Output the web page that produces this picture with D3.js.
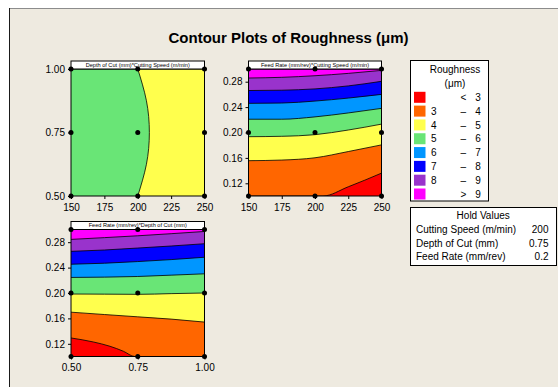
<!DOCTYPE html>
<html>
<head>
<meta charset="utf-8">
<script src="https://cdn.jsdelivr.net/npm/d3@7"></script>
<style>
  html, body { margin: 0; padding: 0; background: #ffffff; }
  svg { display: block; }
  text { font-family: "Liberation Sans", Arial, sans-serif; fill: #000; }
</style>
</head>
<body>
<script>
// ---- data ---------------------------------------------------------------
const speedTicks = [150, 175, 200, 225, 250];
const depthTicks = [0.50, 0.75, 1.00];
const feedTicks = [0.12, 0.16, 0.20, 0.24, 0.28];

const speedDomain = [150, 250];
const depthDomain = [0.50, 1.00];
const feedDomain = [0.10, 0.30];

// roughness bands, lowest first
const bandLow = [null, 3, 4, 5, 6, 7, 8, 9];
const bandHigh = [3, 4, 5, 6, 7, 8, 9, null];
const bandColors = ["#ff0000", "#ff6600", "#ffff4d", "#69e576", "#0096ff", "#0000ff", "#9933cc", "#ff00ff"];

// design points (three levels of each factor)
const speedLevels = [150, 200, 250];
const depthLevels = [0.50, 0.75, 1.00];
const feedLevels = [0.10, 0.20, 0.30];

// Depth of Cut vs Cutting Speed: boundary at roughness = 5, [speed, depth]
const depthSpeedLine5 = [[200, 0.50], [206.5, 0.625], [208.7, 0.75], [206.5, 0.875], [200, 1.00]];

// Feed Rate vs Cutting Speed: boundaries [speed, feed]
const feedSpeedLine3 = [[150, 0.10], [206, 0.10], [225, 0.1145], [250, 0.136]];
const feedSpeedLine4 = [[150, 0.1556], [175, 0.1566], [200, 0.1602], [225, 0.1700], [250, 0.1805]];
const feedSpeedLine5 = [[150, 0.1934], [175, 0.1940], [200, 0.1966], [225, 0.2039], [250, 0.2132]];
const feedSpeedLine6 = [[150, 0.2209], [175, 0.2209], [200, 0.2246], [225, 0.2308], [250, 0.2380]];
const feedSpeedLine7 = [[150, 0.2459], [175, 0.2464], [200, 0.2495], [225, 0.2542], [250, 0.2600]];
const feedSpeedLine8 = [[150, 0.2661], [175, 0.2666], [200, 0.2687], [225, 0.2734], [250, 0.2806]];
const feedSpeedLine9 = [[150, 0.2858], [175, 0.2869], [200, 0.2894], [225, 0.2931], [250, 0.2978]];

// Feed Rate vs Depth of Cut: boundaries [depth, feed]
const feedDepthLine3 = [[0.50, 0.1292], [0.5835, 0.1229], [0.646, 0.1161], [0.696, 0.1083], [0.739, 0.10], [1.00, 0.10]];
const feedDepthLine4 = [[0.50, 0.1698], [0.625, 0.1661], [0.75, 0.1625], [0.875, 0.1589], [1.00, 0.1542]];
const feedDepthLine5 = [[0.50, 0.1984], [0.625, 0.1982], [0.75, 0.1979], [0.875, 0.1990], [1.00, 0.2000]];
const feedDepthLine6 = [[0.50, 0.2245], [0.625, 0.2250], [0.75, 0.2260], [0.875, 0.2281], [1.00, 0.2302]];
const feedDepthLine7 = [[0.50, 0.2453], [0.625, 0.2469], [0.75, 0.2495], [0.875, 0.2526], [1.00, 0.2563]];
const feedDepthLine8 = [[0.50, 0.2656], [0.625, 0.2677], [0.75, 0.2708], [0.875, 0.2740], [1.00, 0.2776]];
const feedDepthLine9 = [[0.50, 0.2844], [0.625, 0.2872], [0.75, 0.2901], [0.875, 0.2934], [1.00, 0.2969]];

const holdNames = ["Cutting Speed (m/min)", "Depth of Cut (mm)", "Feed Rate (mm/rev)"];
const holdValues = ["200", "0.75", "0.2"];

// ---- drawing ------------------------------------------------------------
const W = 558, H = 387;
const svg = d3.select("body").append("svg").attr("width", W).attr("height", H);

// window frame
svg.append("rect").attr("x", 9).attr("y", 8).attr("width", W - 9).attr("height", H - 8).attr("fill", "#eeeae0");
svg.append("line").attr("x1", 9).attr("x2", W).attr("y1", 8.5).attr("y2", 8.5).attr("stroke", "#8c8c8c");
svg.append("line").attr("x1", 9.5).attr("x2", 9.5).attr("y1", 8).attr("y2", H).attr("stroke", "#1a1a1a");

svg.append("text").attr("x", 288.5).attr("y", 42.5).attr("text-anchor", "middle")
  .style("font-size", "15px").style("font-weight", "bold")
  .text("Contour Plots of Roughness (μm)");

let clipId = 0;

function panel(opt) {
  const { x0, x1, y0, y1 } = opt;
  const x = d3.scaleLinear().domain(opt.xDomain).range([x0, x1]);
  const y = d3.scaleLinear().domain(opt.yDomain).range([y1, y0]);
  const g = svg.append("g");
  const id = "clip" + (clipId++);
  g.append("clipPath").attr("id", id).append("rect")
    .attr("x", x0).attr("y", y0).attr("width", x1 - x0).attr("height", y1 - y0);
  const fills = g.append("g").attr("clip-path", `url(#${id})`);

  // base band
  fills.append("rect").attr("x", x0).attr("y", y0).attr("width", x1 - x0).attr("height", y1 - y0)
    .attr("fill", opt.baseColor);

  const line = d3.line().x(d => x(d[0])).y(d => y(d[1])).curve(opt.curve);
  opt.regions.forEach(r => {
    const tail = r.corners.map(c => `L${x(c[0])},${y(c[1])}`).join("") + "Z";
    fills.append("path").attr("d", line(r.pts) + tail).attr("fill", r.color);
  });
  opt.regions.forEach(r => {
    fills.append("path").attr("d", line(r.pts)).attr("fill", "none")
      .attr("stroke", "#000").attr("stroke-width", 0.8);
  });

  g.append("rect").attr("x", x0).attr("y", y0).attr("width", x1 - x0).attr("height", y1 - y0)
    .attr("fill", "none").attr("stroke", "#000").attr("stroke-width", 1);

  // header strip
  g.append("rect").attr("x", x0).attr("y", y0 - 8).attr("width", x1 - x0).attr("height", 8)
    .attr("fill", "#fff").attr("stroke", "#000").attr("stroke-width", 1);
  g.append("text").attr("x", (x0 + x1) / 2).attr("y", y0 - 2.2).attr("text-anchor", "middle")
    .style("font-size", "5.6px").text(opt.header);

  // axes
  const ax = g.append("g").attr("transform", `translate(0,${y1})`)
    .call(d3.axisBottom(x).tickValues(opt.xTicks).tickSize(3).tickPadding(4.5).tickFormat(opt.xFormat));
  const ay = g.append("g").attr("transform", `translate(${x0},0)`)
    .call(d3.axisLeft(y).tickValues(opt.yTicks).tickSize(3).tickPadding(3).tickFormat(d3.format(".2f")));
  [ax, ay].forEach(a => {
    a.select(".domain").remove();
    a.selectAll("text").style("font-size", "10px").style("font-family", "'Liberation Sans', Arial, sans-serif").attr("fill", "#000");
    a.selectAll("line").attr("stroke", "#000");
  });

  // design points
  const pts = [];
  opt.xLevels.forEach(a => opt.yLevels.forEach(b => pts.push([a, b])));
  g.selectAll("circle").data(pts).join("circle")
    .attr("cx", d => x(d[0])).attr("cy", d => y(d[1])).attr("r", 2.5).attr("fill", "#000");
}

function above(pts, xd, yd, color) {
  return { pts, color, corners: [[xd[1], yd[1]], [xd[0], yd[1]]] };
}

// Depth of Cut * Cutting Speed
panel({
  x0: 71, x1: 204.5, y0: 69, y1: 196,
  xDomain: speedDomain, yDomain: depthDomain,
  xTicks: speedTicks, yTicks: depthTicks, xFormat: d3.format("d"),
  xLevels: speedLevels, yLevels: depthLevels,
  header: "Depth of Cut (mm)*Cutting Speed (m/min)",
  baseColor: bandColors[3], curve: d3.curveNatural,
  regions: [{ pts: depthSpeedLine5, color: bandColors[2], corners: [[250, 1.00], [250, 0.50]] }]
});

// Feed Rate * Cutting Speed
const fsLines = [feedSpeedLine3, feedSpeedLine4, feedSpeedLine5, feedSpeedLine6, feedSpeedLine7, feedSpeedLine8, feedSpeedLine9];
panel({
  x0: 248.5, x1: 381.5, y0: 69, y1: 196,
  xDomain: speedDomain, yDomain: feedDomain,
  xTicks: speedTicks, yTicks: feedTicks, xFormat: d3.format("d"),
  xLevels: speedLevels, yLevels: feedLevels,
  header: "Feed Rate (mm/rev)*Cutting Speed (m/min)",
  baseColor: bandColors[0], curve: d3.curveMonotoneX,
  regions: fsLines.map((l, i) => above(l, speedDomain, feedDomain, bandColors[i + 1]))
});

// Feed Rate * Depth of Cut
const fdLines = [feedDepthLine3, feedDepthLine4, feedDepthLine5, feedDepthLine6, feedDepthLine7, feedDepthLine8, feedDepthLine9];
panel({
  x0: 71, x1: 204.5, y0: 229.5, y1: 356.5,
  xDomain: depthDomain, yDomain: feedDomain,
  xTicks: depthTicks, yTicks: feedTicks, xFormat: d3.format(".2f"),
  xLevels: depthLevels, yLevels: feedLevels,
  header: "Feed Rate (mm/rev)*Depth of Cut (mm)",
  baseColor: bandColors[0], curve: d3.curveMonotoneX,
  regions: fdLines.map((l, i) => above(l, depthDomain, feedDomain, bandColors[i + 1]))
});

// ---- legend -------------------------------------------------------------
const leg = svg.append("g");
leg.append("rect").attr("x", 410.5).attr("y", 60.5).attr("width", 78).attr("height", 140.5)
  .attr("fill", "#fff").attr("stroke", "#000");
leg.append("text").attr("x", 455).attr("y", 73.3).attr("text-anchor", "middle").style("font-size", "10px").text("Roughness");
leg.append("text").attr("x", 455).attr("y", 86.9).attr("text-anchor", "middle").style("font-size", "10px").text("(μm)");
const rowY = d3.scaleLinear().domain([0, 7]).range([97.3, 194]);
bandColors.forEach((c, i) => {
  const cy = rowY(i);
  leg.append("rect").attr("x", 414).attr("y", cy - 5.5).attr("width", 11.5).attr("height", 11).attr("fill", c);
  const t = (xx, anchor, s) => leg.append("text").attr("x", xx).attr("y", cy + 3.6)
    .attr("text-anchor", anchor).style("font-size", "10px").text(s);
  if (bandLow[i] === null) { t(463.3, "middle", "<"); t(478, "middle", bandHigh[i]); }
  else if (bandHigh[i] === null) { t(463.3, "middle", ">"); t(478, "middle", bandLow[i]); }
  else { t(431, "start", bandLow[i]); t(463.3, "middle", "–"); t(478, "middle", bandHigh[i]); }
});

// ---- hold values --------------------------------------------------------
const hold = svg.append("g");
hold.append("rect").attr("x", 410.5).attr("y", 207.5).attr("width", 146).attr("height", 58)
  .attr("fill", "#fff").attr("stroke", "#000");
hold.append("text").attr("x", 483.2).attr("y", 219.3).attr("text-anchor", "middle").style("font-size", "10px").text("Hold Values");
holdNames.forEach((n, i) => {
  const by = 232.8 + i * 13.7;
  hold.append("text").attr("x", 416).attr("y", by).style("font-size", "10px").text(n);
  hold.append("text").attr("x", 548.5).attr("y", by).attr("text-anchor", "end").style("font-size", "10px").text(holdValues[i]);
});
</script>
</body>
</html>
